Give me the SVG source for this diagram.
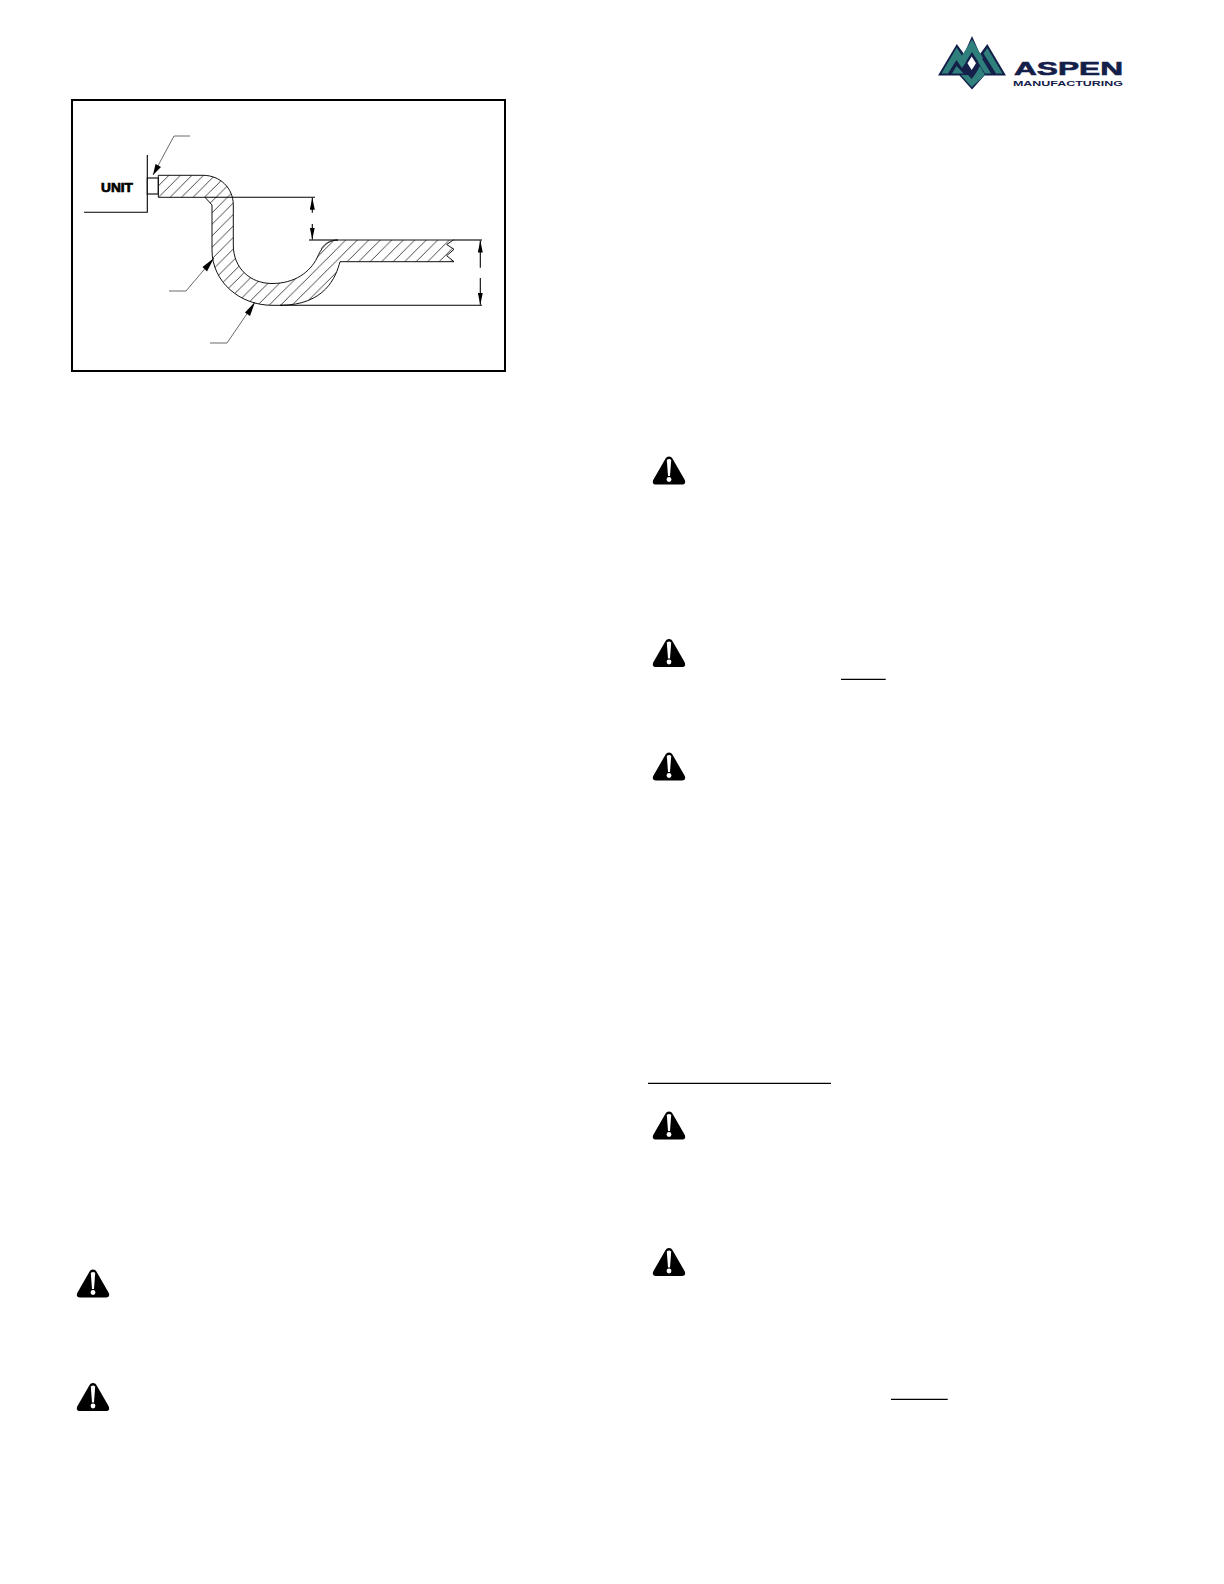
<svg xmlns="http://www.w3.org/2000/svg" width="1224" height="1584" viewBox="0 0 1224 1584">
<style>
.ln{fill:none;stroke:#000;stroke-width:1.1}
.ld{fill:none;stroke:#444;stroke-width:.8}
.rule{stroke:#000;stroke-width:1.2}
.navy{fill:#14204a}
.teal{fill:#2f7f7c}
</style>
<defs>
<pattern id="hatch" patternUnits="userSpaceOnUse" width="11.5" height="11.5" patternTransform="translate(-0.7,0)">
<path d="M-1,12.5 L12.5,-1" stroke="#333" stroke-width=".9" fill="none"/>
</pattern>
<marker id="dim" markerWidth="12" markerHeight="5" refX="12" refY="2.5" orient="auto" markerUnits="userSpaceOnUse" viewBox="0 0 12 5">
<path d="M12,2.5 L0,0 V5 Z" fill="#000"/>
</marker>
<g id="warn">
<path d="M0,0 C2,0 3,1 4,3 L15.5,23 C17,26 16,28 13,28 H-13 C-16,28 -17,26 -15.5,23 L-4,3 C-3,1 -2,0 0,0 Z" fill="#000"/>
<path d="M-2.2,3.5 Q0,1.5 2.2,3.5 L1,19.5 H-1 Z" fill="#fff"/>
<circle cx="0" cy="23" r="2.4" fill="#fff"/>
</g>
</defs>
<rect width="1224" height="1584" fill="#fff"/>

<g id="frame"><rect x="72" y="100" width="433" height="271" fill="none" stroke="#000" stroke-width="2"/></g>

<g id="unit">
<path class="ln" d="M147.3,155 V212.3 H84"/>
<rect x="147.3" y="178" width="11" height="16" fill="#fff" stroke="#000" stroke-width="1.1"/>
<text x="101" y="191.5" font-family="'Liberation Sans',Arial,sans-serif" font-weight="700" font-size="13" textLength="32" lengthAdjust="spacingAndGlyphs" fill="#000" stroke="#000" stroke-width=".7">UNIT</text>
</g>

<g id="trap">
<path d="M158.3,175.3 H203 C220,175.3 233.3,188 233.3,205 V245 C233.3,268 250,283.5 272,283.5 C295,283.5 310,272 317,258 C321,249 326,240 338,240 H453.3 L446.7,244.5 L454,249.3 L446.7,255.7 L454,261.7 H340 C336,277 325,305.3 280,305.3 H272 C240,305.3 212,282 212,250 V205 L205,197.3 H158.3 Z" fill="url(#hatch)" stroke="#111" stroke-width="1"/>
<path class="ld" d="M321,249 C325,243 330,240 338,240"/>
</g>

<g id="connectors">
<path class="ln" d="M205,197.3 H315"/>
<path class="ln" d="M309,240 H338"/>
<path class="ln" d="M453,240 H482"/>
<path class="ln" d="M280,305.3 H482"/>
<path class="ln" d="M312.3,212.7 V197.8" marker-end="url(#dim)"/>
<path class="ln" d="M312.3,224 V239.5" marker-end="url(#dim)"/>
<path class="ln" d="M480.3,267.7 V240.5" marker-end="url(#dim)"/>
<path class="ln" d="M480.3,278 V304.8" marker-end="url(#dim)"/>
<path class="ld" d="M190,136 H174 L153,175"/>
<path class="ld" d="M169,291 H186 L214,258"/>
<path class="ld" d="M210,343 H227 L255,302"/>
<path d="M153,175 L155.5,164 L161,167 Z" fill="#000"/>
<path d="M214,258 L202.5,267 L207,271.5 Z" fill="#000"/>
<path d="M255,302 L245,312.5 L250,316 Z" fill="#000"/>
</g>

<g id="logo">
<path class="navy" d="M938,75.5 L956.8,44 L964,54 L972,36 L980,54 L987.3,44 L1006,75.5 H984.5 L972,89.5 L959.5,75.5 Z"/>
<path class="teal" d="M941.5,73.5 L956.7,47.5 L966,62 L962,68 L956.5,60 L948,73.5 Z"/>
<path class="teal" d="M952,73.5 L956.5,66 L963.5,73.5 Z"/>
<path class="teal" d="M972,39.5 L983,58 L979,63 L972,52 L965,63 L961,57 Z"/>
<path class="teal" d="M987.3,48 L1002.5,73.5 H996 L983.5,53.5 Z"/>
<path class="teal" d="M981,57 L991,73.5 H985 L978,62 Z"/>
<path class="teal" d="M961,75 H968 L971.7,79 L976,73 L980,66 L985,75 L971.7,87 Z"/>
<path d="M971.7,56.5 L976,63.3 L971.7,70 L967.5,63.3 Z" fill="#fff"/>
<text class="navy" x="1014" y="74.5" font-family="'Liberation Sans',Arial,sans-serif" font-weight="700" font-size="19" textLength="109" lengthAdjust="spacingAndGlyphs" stroke="#14204a" stroke-width=".6">ASPEN</text>
<text class="navy" x="1013" y="86" font-family="'Liberation Sans',Arial,sans-serif" font-weight="700" font-size="7" textLength="110" lengthAdjust="spacingAndGlyphs">MANUFACTURING</text>
</g>

<g id="warnings">
<use href="#warn" x="669" y="456.5"/>
<use href="#warn" x="669" y="639"/>
<use href="#warn" x="669" y="752.5"/>
<use href="#warn" x="669" y="1111.5"/>
<use href="#warn" x="669" y="1248"/>
<use href="#warn" x="93" y="1269.5"/>
<use href="#warn" x="93" y="1383"/>
</g>

<g id="rules">
<line class="rule" x1="841" y1="679.3" x2="885.7" y2="679.3"/>
<line class="rule" x1="648" y1="1083.3" x2="831" y2="1083.3"/>
<line class="rule" x1="891" y1="1399.3" x2="947.7" y2="1399.3"/>
</g>
</svg>
